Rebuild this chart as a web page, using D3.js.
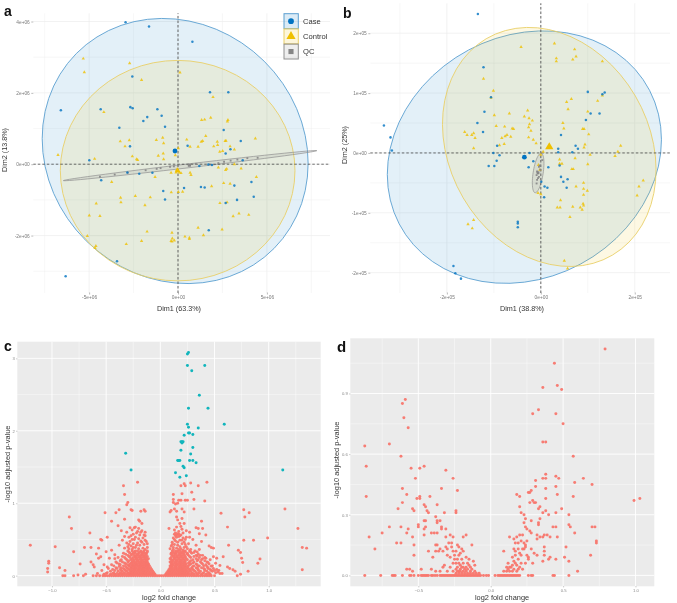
<!DOCTYPE html>
<html>
<head>
<meta charset="utf-8">
<script src="https://cdn.jsdelivr.net/npm/d3@7"></script>
<style>
html, body { margin: 0; padding: 0; background: #fff; }
text { font-family: "Liberation Sans", Arial, sans-serif; }
svg { filter: blur(0.3px); }
</style>
</head>
<body>
<div id="chart"></div>
<script>
// panel a, units of 1e6
var aCase = [[-2.95,3.98],[-1.63,3.86],[0.81,3.43],[1.8,2.02],[2.83,2.02],[-2.57,2.46],[-6.59,1.51],[-4.35,1.54],[-2.68,1.6],[-2.55,1.57],[-1.16,1.54],[-0.92,1.36],[-1.73,1.32],[-1.95,1.21],[-3.3,1.02],[-0.73,1.05],[2.57,0.96],[3.53,0.65],[-2.7,0.5],[0.54,0.52],[2.95,0.42],[2.68,0.3],[-4.99,0.11],[3.64,0.11],[1.71,-0.01],[1.91,-0.02],[1.2,-0.05],[-1.44,-0.24],[-2.18,-0.27],[-2.85,-0.23],[-4.32,-0.45],[-0.83,-0.75],[0.34,-0.67],[1.29,-0.64],[1.5,-0.65],[3.17,-0.6],[4.13,-0.5],[4.26,-0.91],[3.32,-1.0],[-0.73,-0.99],[2.68,-1.09],[1.73,-1.85],[-3.43,-2.72],[-6.32,-3.14]];
var aControl = [[-5.33,2.96],[-5.27,2.58],[-2.72,2.83],[-2.05,2.36],[0.11,2.57],[1.97,1.88],[-4.17,1.46],[1.33,1.24],[1.5,1.25],[1.84,1.3],[2.81,1.24],[2.78,1.2],[-3.25,0.64],[-2.74,0.67],[-2.98,0.5],[-1.22,0.68],[-0.86,0.74],[-0.81,0.59],[0.49,0.69],[0.68,0.49],[1.13,0.49],[1.31,0.63],[1.39,0.65],[1.56,0.79],[2.01,0.5],[2.21,0.63],[2.23,0.54],[2.65,0.65],[2.7,0.66],[2.93,0.5],[4.35,0.72],[2.35,0.35],[2.51,0.37],[3.17,0.41],[-6.75,0.26],[-4.69,0.15],[-2.57,0.22],[-2.33,0.14],[-2.27,0.12],[-1.11,0.24],[-0.83,0.3],[-0.81,0.14],[-0.15,0.25],[0.02,0.45],[-0.39,-0.24],[-0.07,-0.16],[0,-0.2],[0.08,-0.23],[0.17,-0.25],[-0.11,-0.23],[0.68,-0.24],[0.73,-0.3],[-1.29,-0.36],[2.27,-0.09],[2.74,-0.13],[2.68,-0.16],[3.17,0],[3.55,-0.12],[4.41,-0.36],[-3.73,-0.5],[2.57,-0.53],[2.93,-0.55],[1.89,-0.62],[-0.38,-0.79],[0.02,-0.78],[0.26,-0.77],[-3.23,-0.94],[-3.21,-1.07],[-2.4,-0.89],[-1.56,-0.93],[-1.86,-1.15],[-4.6,-1.1],[-4.99,-1.44],[-4.39,-1.45],[2.36,-1.09],[2.76,-1.07],[3.1,-1.46],[3.43,-1.38],[3.98,-1.42],[1.13,-1.78],[2.48,-1.83],[1.43,-1.99],[0.39,-2.03],[0.64,-2.06],[0.64,-2.1],[-1.74,-1.89],[-0.34,-1.92],[-0.32,-2.08],[-0.39,-2.15],[-0.21,-2.14],[-0.34,-2.17],[-2.05,-2.15],[-2.91,-2.24],[-5.1,-2.01],[-4.62,-2.29],[-4.67,-2.35]];
var aQC = [[-4.39,-0.35],[-3.56,-0.29],[-2.83,-0.24],[-1.82,-0.17],[-1.2,-0.13],[-0.98,-0.11],[-0.45,-0.07],[-0.23,-0.06],[0.6,-0.04],[0.68,-0.02],[1,0.01],[2.27,0.03],[2.59,0.07],[2.96,0.1],[3.34,0.13],[3.9,0.17],[4.48,0.18]];
var aMeans = [[-0.17,0.37],[-0.02,-0.18],[0.65,-0.03]];
// centre x, centre y, then two axis vectors
var aCaseEllipse = [-0.16,0.37,7.48,-0.346,0,3.7];
var aControlEllipse = [-0.02,-0.18,6.6,0,0,3.09];
var aQCEllipse = [0.68,-0.04,7.13,0.42,0,0.055];
var aXTicks = [-5,0,5], aXLabels = ["-5e+06","0e+00","5e+06"];
var aYTicks = [-2,0,2,4], aYLabels = ["-2e+06","0e+00","2e+06","4e+06"];
var aXMinor = [-7.5,-2.5,2.5,7.5], aYMinor = [-3,-1,1,3];

// panel b, units of 1e5
var bCase = [[-1.34,2.32],[-3.34,0.46],[-3.2,0.26],[-3.17,0.04],[-1.22,1.43],[-1.2,0.69],[-1.06,0.93],[-1.35,0.5],[-1.23,0.35],[-0.93,0.12],[-1.01,0],[-0.88,-0.04],[-0.94,-0.13],[-1.11,-0.22],[-0.99,-0.22],[-0.24,0],[-0.16,-0.14],[-0.26,-0.24],[0.16,-0.24],[0.37,0.07],[0.37,0.01],[0.67,0.01],[0.74,0.12],[0.79,0.07],[0.43,0.3],[0.4,-0.21],[0.43,-0.4],[0.48,-0.48],[0.57,-0.44],[0.55,-0.58],[0.08,-0.56],[0.14,-0.58],[0.07,-0.74],[0.01,-0.48],[0.96,0.55],[1.06,0.66],[1,1.02],[1.25,0.66],[1.31,0.98],[1.36,1.01],[-0.49,-1.15],[-0.49,-1.18],[-0.49,-1.24],[-1.86,-1.89],[-1.82,-2.01],[-1.7,-2.1]];
var bControl = [[-0.42,1.77],[0.29,1.83],[0.72,1.73],[0.75,1.61],[0.68,1.56],[0.33,1.58],[0.33,1.53],[1.31,1.53],[-1.22,1.24],[-1.01,1.04],[-1.06,0.92],[0.65,0.9],[0.55,0.85],[0.58,0.73],[1.21,0.87],[1.31,0.96],[1,0.69],[-0.99,0.63],[-0.67,0.66],[-0.28,0.71],[-0.35,0.61],[-0.25,0.58],[-0.18,0.54],[-0.24,0.48],[-0.26,0.43],[-0.21,0.37],[-0.95,0.45],[-0.77,0.44],[-0.61,0.41],[-0.58,0.4],[-1.62,0.35],[-1.57,0.3],[-1.47,0.3],[-1.43,0.33],[-1.4,0.25],[-0.83,0.25],[-0.76,0.28],[-0.72,0.3],[-0.64,0.27],[-0.78,0.15],[-0.88,0.13],[-1.43,0.08],[-0.26,0.26],[-0.16,0.22],[-0.1,0.16],[0.47,0.5],[0.49,0.41],[0.89,0.4],[0.92,0.4],[1.02,0.31],[0.94,0.14],[0.92,0.09],[1.7,0.12],[1.64,0.02],[1.58,-0.05],[1.05,-0.03],[1,-0.19],[0.73,-0.09],[0.4,-0.11],[0.4,-0.18],[0.45,-0.18],[0.66,-0.27],[0.69,-0.27],[0.05,0.02],[0,-0.03],[-0.05,-0.2],[-0.02,-0.28],[-0.06,-0.67],[0,-0.69],[0.75,-0.56],[0.91,-0.5],[0.91,-0.6],[0.99,-0.63],[0.91,-0.7],[2.18,-0.46],[2.09,-0.56],[2.05,-0.71],[0.42,-0.79],[0.35,-0.91],[0.41,-0.91],[0.68,-0.9],[0.84,-0.91],[0.9,-0.85],[0.91,-0.88],[0.88,-0.95],[0.62,-1.07],[-1.55,-1.19],[-1.43,-1.12],[-1.46,-1.26],[0.5,-1.8],[0.57,-1.93]];
var bQC = [[0.03,-0.12],[-0.02,-0.21],[-0.08,-0.31],[-0.06,-0.34],[-0.09,-0.37],[-0.04,-0.4],[-0.08,-0.45],[-0.09,-0.51],[-0.04,-0.23],[-0.01,-0.28],[-0.06,-0.42]];
var bCaseMean = [-0.35,-0.07], bControlMean = [0.18,0.1], bQCMean = [-0.06,-0.33];
var bCaseEllipse = [-0.35,-0.07,2.918,0.29,0,2.089];
var bControlEllipse = [0.18,0.1,2.26,-0.167,-0.248,1.99];
var bQCEllipse = [-0.057,-0.335,0.064,0.33,0.106,-0.01];
var bXTicks = [-2,0,2], bXLabels = ["-2e+05","0e+00","2e+05"];
var bYTicks = [-2,-1,0,1,2], bYLabels = ["-2e+05","-1e+05","0e+00","1e+05","2e+05"];
var bXMinor = [-3,-1,1], bYMinor = [-1.5,-0.5,0.5,1.5];

// panel c
var cSignificant = [[0.26,3.08],[0.25,3.06],[0.25,2.9],[0.41,2.9],[0.29,2.83],[0.36,2.49],[0.26,2.31],[0.44,2.31],[0.25,2.09],[0.59,2.09],[0.26,2.05],[0.35,2.04],[0.26,1.97],[0.27,1.97],[0.3,1.95],[0.22,1.94],[0.19,1.85],[0.2,1.85],[0.21,1.85],[0.2,1.83],[0.3,1.77],[0.19,1.73],[0.28,1.68],[-0.32,1.69],[0.16,1.59],[0.17,1.59],[0.18,1.59],[0.27,1.59],[0.3,1.59],[0.33,1.56],[0.21,1.51],[0.22,1.49],[-0.27,1.46],[1.13,1.46],[0.14,1.42],[0.24,1.38],[0.18,1.36]];
var cSparse = [[-1.2,0.42],[-0.97,0.4],[-1.03,0.2],[-1.03,0.17],[-1.04,0.1],[-1.04,0.05],[-0.93,0.11],[-0.88,0.07],[-0.9,0],[-0.88,0],[-0.84,0.81],[-0.82,0.65],[-0.8,0.33],[-0.8,0],[-0.76,0.01],[-0.74,0.16],[-0.7,0.39],[-0.71,0],[-0.69,0.02],[-0.65,0.59],[-0.64,0.39],[-0.64,0.19],[-0.62,0.15],[-0.61,0.12],[-0.59,0.3],[-0.57,0.24],[-0.57,0.38],[-0.55,0.5],[-0.54,0.49],[-0.49,0.53],[-0.51,0.87],[-0.55,0.26],[-0.52,0.15],[-0.49,0.12],[-0.5,0.33],[-0.45,0.75],[-0.41,0.87],[-0.38,0.91],[-0.39,0.69],[-0.33,0.78],[-0.36,0.62],[-0.34,1.24],[-0.33,1.12],[-0.31,0.98],[-0.3,1.01],[-0.27,0.91],[-0.26,0.9],[-0.21,1.29],[-0.2,0.77],[-0.19,0.75],[-0.18,0.89],[-0.15,0.91],[-0.14,0.89],[-0.17,0.72],[-0.45,0.35],[-0.42,0.29],[-0.47,0.24],[-0.38,0.42],[-0.35,0.49],[-0.33,0.54],[-0.28,0.66],[-0.26,0.63],[-0.23,0.67],[-0.2,0.65],[-0.17,0.62],[-0.14,0.6],[-0.14,0.55],[-0.31,0.6],[-0.29,0.53],[-0.25,0.57],[-0.22,0.59],[-0.19,0.56],[-0.16,0.52],[-0.13,0.47],[-0.31,0.45],[-0.28,0.47],[-0.24,0.5],[-0.21,0.45],[-0.18,0.48],[-0.15,0.43],[-0.27,0.41],[-0.23,0.39],[-0.19,0.42],[-0.16,0.38],[-0.12,0.39],[-0.33,0.38],[-0.3,0.4],[-0.26,0.36],[-0.24,0.66],[-0.21,0.61],[-0.27,0.55],[-0.18,0.6],[-0.15,0.56],[-0.26,0.5],[-0.23,0.53],[-0.2,0.51],[-0.17,0.46],[-0.14,0.49],[-0.29,0.43],[-0.25,0.44],[-0.22,0.42],[-0.12,0.44],[-0.29,0.37],[-0.25,0.39],[-0.2,0.37],[-0.14,0.36],
[0.12,1.12],[0.12,1.05],[0.12,1.01],[0.17,1.04],[0.16,1],[0.19,1.24],[0.22,1.27],[0.23,1.24],[0.28,1.28],[0.35,1.24],[0.43,1.29],[0.29,1.15],[0.31,1.05],[0.2,1.13],[0.19,1.04],[0.23,1.04],[0.25,1.04],[0.41,1.03],[0.14,0.99],[0.09,0.88],[0.1,0.9],[0.13,0.92],[0.15,0.89],[0.2,0.92],[0.22,0.88],[0.31,0.92],[0.15,0.81],[0.16,0.77],[0.18,0.72],[0.2,0.79],[0.22,0.72],[0.19,0.68],[0.38,0.75],[0.39,0.65],[0.33,0.66],[0.35,0.65],[0.42,0.56],[0.36,0.58],[0.56,0.86],[0.62,0.67],[0.63,0.42],[0.58,0.26],[0.62,0.12],[0.64,0.1],[0.67,0.08],[0.69,0.06],[0.71,0],[0.74,0.02],[0.81,0.06],[0.72,0.35],[0.74,0.32],[0.75,0.24],[0.76,0.18],[0.77,0.49],[0.77,0.91],[0.78,0.81],[0.82,0.87],[0.86,0.49],[0.99,0.52],[0.92,0.23],[0.9,0.17],[1.27,0.65],[1.15,0.92],[1.31,0.39],[1.35,0.38],[1.31,0.08],[0.45,0.41],[0.47,0.39],[0.49,0.38],[0.42,0.24],[0.49,0.26],[0.52,0.24],[0.51,0.17],[0.55,0.14],[0.47,0.13],[0.44,0.18],[0.39,0.28],[0.36,0.36],[0.33,0.42],[0.3,0.5],[0.38,0.47],[0.27,0.53],[0.24,0.53],[0.21,0.52],[0.12,0.52],[0.08,0.65],[0.13,0.63],[0.15,0.67],[0.24,0.62],[0.27,0.6],[0.13,0.57],[0.14,0.55],[0.15,0.56],[0.16,0.58],[0.17,0.57],[0.18,0.55],[0.19,0.56],[0.15,0.53],[0.17,0.54],[0.11,0.46],[0.14,0.48],[0.18,0.49],[0.22,0.46],[0.26,0.44],[0.1,0.41],[0.13,0.43],[0.16,0.42],[0.2,0.44],[0.24,0.4],[0.28,0.36],[0.09,0.37],[0.12,0.36],[0.15,0.38],[0.19,0.37],[0.22,0.39],[0.31,0.32],[0.34,0.27],[0.38,0.22],[0.44,0.1],[0.5,0.07],[0.53,0.05],[0.57,0.03],[0.16,0.46],[0.2,0.49],[0.13,0.5],[0.23,0.5],[0.17,0.61],[0.14,0.59],[0.2,0.64],[0.21,0.59],[0.11,0.43],[0.18,0.4],[0.23,0.43],[0.12,0.39],[0.17,0.36],[0.21,0.35],[0.25,0.37]];
var cRowLevels = [0,0.02,0.04,0.06,0.085,0.11,0.135,0.16,0.19,0.22,0.25,0.28,0.31,0.34];
var cRows = [
  [-0.62,-0.59,-0.56,-0.53,-0.51,-0.49,-0.47,-0.45,-0.43,-0.41,-0.39,-0.37,-0.35,-0.33,-0.31,-0.29,-0.27,-0.25,-0.23,-0.21,-0.19,-0.17,-0.15,-0.13,-0.11,-0.09,-0.07,-0.05,-0.03,-0.01,0.01,0.03,0.05,0.07,0.09,0.11,0.13,0.15,0.17,0.19,0.21,0.23,0.25,0.27,0.29,0.31,0.33,0.35,0.37,0.39,0.41,0.43,0.45,0.47,0.5],
  [-0.52,-0.46,-0.42,-0.38,-0.35,-0.32,-0.29,-0.27,-0.25,-0.23,-0.21,-0.19,-0.17,-0.15,-0.13,-0.11,-0.09,-0.07,-0.05,0.05,0.07,0.09,0.11,0.13,0.15,0.17,0.19,0.21,0.23,0.25,0.28,0.31,0.34,0.38,0.42,0.46],
  [-0.49,-0.43,-0.37,-0.33,-0.3,-0.28,-0.26,-0.24,-0.22,-0.2,-0.18,-0.16,-0.14,-0.12,-0.1,-0.08,-0.06,0.06,0.08,0.1,0.12,0.14,0.16,0.18,0.2,0.22,0.24,0.26,0.29,0.33,0.36,0.4,0.45,0.51],
  [-0.46,-0.39,-0.35,-0.31,-0.27,-0.25,-0.23,-0.21,-0.19,-0.17,-0.15,-0.13,-0.11,-0.09,-0.07,0.07,0.09,0.11,0.13,0.15,0.17,0.19,0.21,0.23,0.25,0.28,0.32,0.37,0.43,0.48],
  [-0.44,-0.37,-0.33,-0.29,-0.26,-0.24,-0.22,-0.2,-0.18,-0.16,-0.14,-0.12,-0.1,-0.08,0.08,0.1,0.12,0.14,0.16,0.18,0.2,0.22,0.24,0.27,0.3,0.35,0.41,0.46,0.52],
  [-0.41,-0.36,-0.31,-0.27,-0.25,-0.23,-0.21,-0.19,-0.17,-0.15,-0.13,-0.11,-0.09,0.09,0.11,0.13,0.15,0.17,0.19,0.21,0.23,0.25,0.29,0.33,0.38,0.44],
  [-0.43,-0.34,-0.29,-0.26,-0.24,-0.22,-0.2,-0.18,-0.16,-0.14,-0.12,-0.1,0.09,0.11,0.13,0.15,0.17,0.19,0.21,0.23,0.26,0.31,0.36,0.4,0.48],
  [-0.38,-0.32,-0.28,-0.25,-0.23,-0.21,-0.19,-0.17,-0.15,-0.13,-0.11,0.1,0.12,0.14,0.16,0.18,0.2,0.22,0.24,0.28,0.33,0.39,0.45],
  [-0.41,-0.35,-0.3,-0.26,-0.24,-0.22,-0.2,-0.18,-0.16,-0.14,-0.12,0.09,0.11,0.13,0.15,0.17,0.19,0.21,0.23,0.27,0.31,0.37,0.43],
  [-0.36,-0.31,-0.27,-0.24,-0.22,-0.2,-0.18,-0.16,-0.14,-0.12,0.1,0.12,0.14,0.16,0.18,0.2,0.22,0.25,0.3,0.35,0.46],
  [-0.39,-0.33,-0.28,-0.25,-0.23,-0.21,-0.19,-0.17,-0.15,-0.13,0.1,0.13,0.15,0.17,0.19,0.21,0.23,0.28,0.36,0.41],
  [-0.3,-0.27,-0.24,-0.22,-0.2,-0.18,-0.16,-0.14,0.11,0.13,0.16,0.18,0.2,0.22,0.26,0.33,0.37],
  [-0.34,-0.28,-0.25,-0.23,-0.2,-0.17,-0.15,-0.13,0.1,0.12,0.14,0.17,0.19,0.21,0.25,0.29],
  [-0.3,-0.26,-0.23,-0.21,-0.18,-0.15,-0.12,0.11,0.14,0.16,0.18,0.21,0.23,0.27,0.32]
];
// second pass over the band, between the rows above
var cFillLevels = [0.03,0.07,0.1,0.125,0.15,0.175,0.205,0.235,0.265,0.295,0.325];
var cFillRows = [
  [-0.58,-0.5,-0.44,-0.4,-0.36,-0.34,-0.3,-0.26,-0.22,-0.18,-0.14,-0.1,-0.06,0.06,0.1,0.14,0.18,0.22,0.26,0.3,0.35,0.39,0.44,0.55],
  [-0.54,-0.42,-0.36,-0.32,-0.28,-0.24,-0.2,-0.16,-0.12,-0.08,0.08,0.12,0.16,0.2,0.24,0.27,0.31,0.35,0.41,0.47,0.54],
  [-0.48,-0.4,-0.34,-0.3,-0.27,-0.23,-0.19,-0.15,-0.11,0.1,0.14,0.18,0.22,0.26,0.29,0.34,0.4,0.49],
  [-0.38,-0.32,-0.28,-0.24,-0.2,-0.16,-0.12,0.1,0.14,0.18,0.22,0.25,0.3,0.35,0.43],
  [-0.45,-0.37,-0.3,-0.26,-0.22,-0.18,-0.14,-0.11,0.11,0.15,0.19,0.23,0.27,0.34,0.42],
  [-0.4,-0.33,-0.27,-0.23,-0.19,-0.15,-0.12,0.1,0.14,0.18,0.22,0.26,0.3,0.38],
  [-0.37,-0.29,-0.25,-0.21,-0.17,-0.13,0.11,0.15,0.19,0.23,0.28,0.34,0.41],
  [-0.42,-0.32,-0.26,-0.22,-0.18,-0.14,-0.11,0.09,0.13,0.17,0.21,0.24,0.33,0.39],
  [-0.35,-0.29,-0.23,-0.19,-0.15,-0.12,0.12,0.15,0.19,0.23,0.27,0.31],
  [-0.32,-0.26,-0.21,-0.17,-0.13,0.1,0.14,0.18,0.22,0.25,0.35],
  [-0.29,-0.24,-0.19,-0.16,-0.12,0.12,0.15,0.2,0.23,0.28,0.34]
];
var cXTicks = [-1,-0.5,0,0.5,1], cYTicks = [0,1,2,3];
var cXMinor = [-0.75,-0.25,0.25,0.75,1.25], cYMinor = [0.5,1.5,2.5];

// panel d
var dPoints = [[0.79,1.12],[0.44,1.05],[0.46,0.94],[0.49,0.92],[0.36,0.93],[0.33,0.82],[0.29,0.8],[0.45,0.8],[0.5,0.75],[0.36,0.66],[0.38,0.66],[0.57,0.59],[0.38,0.5],[0.36,0.48],[0.38,0.48],[0.31,0.47],[0.45,0.49],[0.47,0.48],[0.64,0.48],[0.58,0.46],[0.7,0.45],[0.31,0.44],[0.45,0.44],[0.38,0.43],[0.46,0.4],[0.28,0.42],[0.27,0.41],[0.26,0.41],[0.57,0.39],[0.18,0.4],[0.2,0.39],[0.38,0.38],[0.99,0.37],[1.03,0.38],[0.29,0.37],[0.3,0.36],[0.27,0.36],[0.31,0.36],[0.2,0.34],[0.33,0.33],[0.34,0.34],[0.38,0.32],[0.49,0.33],[0.45,0.31],[0.21,0.31],[0.36,0.31],[0.54,0.3],[0.23,0.3],[0.4,0.3],[0.34,0.28],[0.24,0.28],[0.28,0.27],[0.23,0.26],[0.33,0.26],[0.24,0.24],[0.25,0.23],[0.54,0.25],[0.55,0.24],[0.43,0.24],[0.45,0.24],[0.33,0.25],[0.58,0.21],[0.27,0.22],[0.28,0.21],[0.7,0.24],[0.72,0.24],[0.46,0.19],[0.32,0.2],[0.32,0.18],[0.34,0.19],[0.36,0.19],[0.37,0.2],[0.39,0.2],[0.41,0.19],[0.73,0.17],[0.73,0.16],[0.69,0.1],[0.52,0.14],[0.51,0.09],[0.54,0.07],[0.6,0.02],[0.45,0.08],[0.4,0.08],[0.41,0.09],[0.37,0.1],[0.37,0.12],[0.37,0.14],[0.36,0.07],[0.32,0.1],[0.3,0.11],[0.28,0.13],[0.26,0.09],
[0.13,0.19],[0.16,0.18],[0.18,0.19],[0.2,0.2],[0.22,0.2],[0.21,0.17],[0.23,0.16],[0.24,0.15],[0.19,0.16],[0.17,0.16],[0.25,0.17],[0.24,0.14],[0.23,0.13],[0.22,0.13],[0.19,0.13],[0.16,0.13],[0.17,0.12],[0.09,0.12],[0.15,0.09],[0.17,0.1],[0.21,0.1],[0.2,0.11],[0.25,0.1],[0.26,0.08],[0.29,0.06],[0.24,0.06],[0.19,0.08],[0.16,0.07],[0.17,0.06],[0.12,0.06],[0.11,0.04],[0.13,0.04],[0.15,0.05],[0.18,0.05],[0.2,0.04],[0.21,0.06],[0.22,0.03],[0.19,0.03],[0.16,0.03],[0.13,0.02],[0.11,0.02],[0.09,0.02],[0.18,0.02],[0.15,0.02],[0.14,0.04],[0.12,0.03],
[-0.87,0.64],[-0.86,0.54],[-0.86,0.39],[-0.84,0.19],[-0.8,0.13],[-0.75,0.21],[-0.7,0.24],[-0.7,0.65],[-0.65,0.16],[-0.62,0.16],[-0.62,0.59],[-0.61,0.85],[-0.59,0.87],[-0.6,0.78],[-0.57,0.73],[-0.61,0.43],[-0.61,0.36],[-0.58,0.4],[-0.64,0.33],[-0.62,0.24],[-0.57,0.23],[-0.58,0.21],[-0.55,0.53],[-0.49,0.53],[-0.46,0.54],[-0.52,0.48],[-0.31,0.52],[-0.26,0.48],[-0.23,0.42],[-0.34,0.43],[-0.51,0.38],[-0.49,0.38],[-0.49,0.39],[-0.42,0.39],[-0.46,0.35],[-0.45,0.34],[-0.44,0.32],[-0.54,0.33],[-0.53,0.32],[-0.37,0.35],[-0.43,0.31],[-0.32,0.31],[-0.24,0.32],[-0.24,0.31],[-0.38,0.29],[-0.46,0.27],[-0.45,0.27],[-0.37,0.27],[-0.35,0.27],[-0.37,0.26],[-0.34,0.24],[-0.5,0.25],[-0.5,0.24],[-0.45,0.24],[-0.46,0.23],[-0.31,0.23],[-0.34,0.23],[-0.41,0.21],[-0.39,0.21],[-0.37,0.21],[-0.46,0.2],[-0.54,0.19],[-0.53,0.15],[-0.53,0.1],[-0.43,0.12],[-0.4,0.09],
[-0.28,0.2],[-0.26,0.19],[-0.19,0.19],[-0.17,0.2],[-0.31,0.19],[-0.38,0.15],[-0.37,0.15],[-0.35,0.13],[-0.31,0.14],[-0.29,0.16],[-0.27,0.16],[-0.23,0.15],[-0.22,0.14],[-0.2,0.13],[-0.19,0.12],[-0.21,0.11],[-0.13,0.15],[-0.3,0.13],[-0.33,0.12],[-0.36,0.12],[-0.38,0.12],[-0.3,0.1],[-0.26,0.12],[-0.25,0.1],[-0.23,0.08],[-0.25,0.08],[-0.2,0.08],[-0.17,0.09],[-0.15,0.08],[-0.12,0.07],[-0.11,0.05],[-0.14,0.04],[-0.16,0.06],[-0.19,0.06],[-0.21,0.05],[-0.23,0.04],[-0.32,0.05],[-0.33,0.04],[-0.26,0.06],[-0.28,0.04],[-0.18,0.03],[-0.21,0.03],[-0.41,0.03],[-0.38,0.02],[-0.48,0.03],[-0.58,0.03],[-0.56,0.03],[-0.54,0.02],[-0.35,0.02],[-0.3,0.02],[-0.26,0.02],[-0.14,0.02],[-0.11,0.02],[-0.22,0.02],[-0.17,0.02],[-0.19,0.02],[-0.13,0.03],[-0.1,0.01],[-0.08,0.01],[-0.2,0.04],[-0.16,0.03],[-0.24,0.03],[-0.15,0.05],[-0.24,0.01],[-0.22,0.01],[-0.2,0.01],[-0.18,0.01],[-0.16,0.01],[-0.14,0.01],[-0.12,0.01],[-0.23,0.02],[-0.21,0.02],[-0.19,0.04],[-0.17,0.04],[-0.22,0.06],[-0.24,0.06],[-0.28,0.09],[-0.22,0.1],[-0.27,0.14],[-0.24,0.12]];
var dBaseline = [-0.87,-0.76,-0.68,-0.67,-0.66,-0.61,-0.56,-0.55,-0.53,-0.5,-0.48,-0.47,-0.46,-0.45,-0.44,-0.43,-0.41,-0.4,-0.385,-0.37,-0.35,-0.34,-0.33,-0.32,-0.31,-0.3,-0.29,-0.28,-0.27,-0.26,-0.25,-0.24,-0.23,-0.22,-0.21,-0.2,-0.19,-0.18,-0.17,-0.16,-0.15,-0.14,-0.13,-0.12,-0.11,-0.1,-0.09,-0.08,-0.07,-0.05,-0.03,-0.015,0.03,0.05,0.06,0.07,0.08,0.09,0.1,0.11,0.12,0.13,0.14,0.15,0.16,0.17,0.18,0.19,0.2,0.26,0.28,0.29,0.43,0.44,0.54];
var dXTicks = [-0.5,0,0.5,1], dYTicks = [0,0.3,0.6,0.9];
var dXMinor = [-0.75,-0.25,0.25,0.75], dYMinor = [0.15,0.45,0.75,1.05];

var legendNames = ["Case","Control","QC"];
var groupColors = ["#0073C2","#EFC000","#868686"];
var groupStrokes = ["#5A9FD0","#E9CF68","#8f8f8f"];
var groupShapes = [d3.symbolCircle, d3.symbolTriangle, d3.symbolSquare];

var width = 677, height = 603;
var svg = d3.select("#chart").append("svg")
    .attr("width", width)
    .attr("height", height)
    .style("display", "block");

// outline of an ellipse given by centre and two axis vectors, in data units
function ellipseOutline(e) {
    var angles = d3.range(0, 360, 6);
    return angles.map(function (a) {
        var t = a * Math.PI / 180;
        return [e[0] + Math.cos(t) * e[2] + Math.sin(t) * e[4],
                e[1] + Math.cos(t) * e[3] + Math.sin(t) * e[5]];
    });
}

function drawGrid(g, x, y, xMajor, yMajor, xMinor, yMinor, color, majorW, minorW) {
    var xr = x.range(), yr = y.range();
    function lines(vals, sw) {
        g.selectAll(null).data(vals).enter().append("line")
            .attr("x1", function (d) { return x(d); }).attr("x2", function (d) { return x(d); })
            .attr("y1", yr[0]).attr("y2", yr[1])
            .attr("stroke", color).attr("stroke-width", sw);
    }
    function hlines(vals, sw) {
        g.selectAll(null).data(vals).enter().append("line")
            .attr("y1", function (d) { return y(d); }).attr("y2", function (d) { return y(d); })
            .attr("x1", xr[0]).attr("x2", xr[1])
            .attr("stroke", color).attr("stroke-width", sw);
    }
    lines(xMinor, minorW); hlines(yMinor, minorW);
    lines(xMajor, majorW); hlines(yMajor, majorW);
}

function drawAxes(g, x, y, xTicks, xLabels, yTicks, yLabels, xBase, yBase, tickLen, labelSize, labelColor) {
    var ax = d3.axisBottom(x).tickValues(xTicks).tickSize(tickLen).tickPadding(1.5)
        .tickFormat(function (d, i) { return xLabels ? xLabels[i] : d3.format(".1f")(d); });
    var ay = d3.axisLeft(y).tickValues(yTicks).tickSize(tickLen).tickPadding(1.5)
        .tickFormat(function (d, i) { return yLabels[i]; });
    var gx = g.append("g").attr("transform", "translate(0," + xBase + ")").call(ax);
    var gy = g.append("g").attr("transform", "translate(" + yBase + ",0)").call(ay);
    [gx, gy].forEach(function (a) {
        a.select(".domain").remove();
        a.selectAll("line").attr("stroke", "#777").attr("stroke-width", 0.5);
        a.selectAll("text").attr("fill", labelColor).style("font-size", labelSize + "px")
            .style("font-family", '"Liberation Sans", Arial, sans-serif');
    });
}

function drawTitle(g, txt, px, py, size, rotate, weight, color) {
    var t = g.append("text").text(txt)
        .attr("text-anchor", weight ? "start" : "middle")
        .attr("font-size", size)
        .attr("fill", color || "#333");
    if (weight) t.attr("font-weight", weight);
    if (rotate) t.attr("transform", "translate(" + px + "," + py + ") rotate(-90)");
    else t.attr("x", px).attr("y", py);
}

function drawMarkers(g, pts, x, y, shape, size, color, opacity) {
    var sym = d3.symbol().type(shape).size(size);
    g.selectAll(null).data(pts).enter().append("path")
        .attr("d", sym)
        .attr("transform", function (d) { return "translate(" + x(d[0]) + "," + y(d[1]) + ")"; })
        .attr("fill", color)
        .attr("fill-opacity", opacity);
}

function pcaPanel(o) {
    var g = svg.append("g");
    drawGrid(g, o.x, o.y, o.xTicks, o.yTicks, o.xMinor, o.yMinor, "#ececec", 0.7, 0.4);

    var smooth = d3.line().x(function (d) { return o.x(d[0]); }).y(function (d) { return o.y(d[1]); })
        .curve(d3.curveLinearClosed);
    [o.caseEllipse, o.controlEllipse, o.qcEllipse].forEach(function (e, i) {
        g.append("path").attr("d", smooth(ellipseOutline(e)))
            .attr("fill", groupColors[i]).attr("fill-opacity", i == 2 ? 0.15 : 0.11)
            .attr("stroke", groupStrokes[i]).attr("stroke-width", i == 2 ? 0.7 : 0.9);
    });

    var xr = o.x.range(), yr = o.y.range();
    g.append("line").attr("x1", xr[0]).attr("x2", xr[1]).attr("y1", o.y(0)).attr("y2", o.y(0))
        .attr("stroke", "#333").attr("stroke-width", 0.7).attr("stroke-dasharray", "2.5,2");
    g.append("line").attr("x1", o.x(0)).attr("x2", o.x(0)).attr("y1", yr[0]).attr("y2", yr[1])
        .attr("stroke", "#555").attr("stroke-width", 0.9).attr("stroke-dasharray", "2.5,2");

    drawMarkers(g, o.control, o.x, o.y, groupShapes[1], 5, groupColors[1], 0.8);
    drawMarkers(g, o.qc, o.x, o.y, groupShapes[2], 3.5, groupColors[2], 0.9);
    drawMarkers(g, o.cases, o.x, o.y, groupShapes[0], 5, groupColors[0], 0.8);
    drawMarkers(g, [o.means[0]], o.x, o.y, groupShapes[0], 18, groupColors[0], 1);
    drawMarkers(g, [o.means[1]], o.x, o.y, groupShapes[1], o.meanTri, groupColors[1], 1);
    drawMarkers(g, [o.means[2]], o.x, o.y, groupShapes[2], 8, groupColors[2], 1);

    drawAxes(g, o.x, o.y, o.xTicks, o.xLabels, o.yTicks, o.yLabels, yr[0] - 0.5, xr[0], 2, 4.8, "#7a7a7a");
    drawTitle(g, o.xTitle, o.xTitleX, 311, 7.2);
    drawTitle(g, o.yTitle, o.yTitleX, o.yTitleY, 7.2, true);
}

// a
pcaPanel({
    x: d3.scaleLinear().domain([-8.14, 8.55]).range([33.3, 330]),
    y: d3.scaleLinear().domain([-3.61, 4.23]).range([293, 13.3]),
    cases: aCase, control: aControl, qc: aQC, means: aMeans, meanTri: 14,
    caseEllipse: aCaseEllipse, controlEllipse: aControlEllipse, qcEllipse: aQCEllipse,
    xTicks: aXTicks, xLabels: aXLabels, yTicks: aYTicks, yLabels: aYLabels,
    xMinor: aXMinor, yMinor: aYMinor,
    xTitle: "Dim1 (63.3%)", xTitleX: 179, yTitle: "Dim2 (13.8%)", yTitleX: 7, yTitleY: 150
});

// b
pcaPanel({
    x: d3.scaleLinear().domain([-3.63, 2.75]).range([370.3, 670]),
    y: d3.scaleLinear().domain([-2.34, 2.5]).range([293, 3.3]),
    cases: bCase, control: bControl, qc: bQC, means: [bCaseMean, bControlMean, bQCMean], meanTri: 30,
    caseEllipse: bCaseEllipse, controlEllipse: bControlEllipse, qcEllipse: bQCEllipse,
    xTicks: bXTicks, xLabels: bXLabels, yTicks: bYTicks, yLabels: bYLabels,
    xMinor: bXMinor, yMinor: bYMinor,
    xTitle: "Dim1 (38.8%)", xTitleX: 522, yTitle: "Dim2 (25%)", yTitleX: 347, yTitleY: 145
});

// legend of panel a
var legend = svg.append("g");
var legendY = d3.scaleBand().domain(legendNames).range([13.7, 59]).paddingInner(0.02);
legendNames.forEach(function (name, i) {
    var ky = legendY(name), k = legendY.bandwidth();
    legend.append("rect").attr("x", 284).attr("y", ky).attr("width", 14.3).attr("height", k)
        .attr("fill", groupColors[i]).attr("fill-opacity", 0.14)
        .attr("stroke", groupStrokes[i]).attr("stroke-width", 1);
    legend.append("path").attr("d", d3.symbol().type(groupShapes[i]).size(i == 1 ? 36 : 26)())
        .attr("transform", "translate(291," + (ky + k / 2) + ")")
        .attr("fill", groupColors[i]);
    legend.append("text").text(name).attr("x", 303).attr("y", ky + k / 2 + 2.8)
        .attr("font-size", 7.6).attr("fill", "#333");
});

function volcanoPanel(o) {
    var g = svg.append("g");
    var xr = o.x.range(), yr = o.y.range();
    g.append("rect").attr("x", xr[0]).attr("y", yr[1]).attr("width", xr[1] - xr[0]).attr("height", yr[0] - yr[1])
        .attr("fill", "#EBEBEB");
    drawGrid(g, o.x, o.y, o.xTicks, o.yTicks, o.xMinor, o.yMinor, "#fff", 0.9, 0.4);
    drawMarkers(g, o.red, o.x, o.y, d3.symbolCircle, 7, "#F8766D", 0.95);
    if (o.teal) drawMarkers(g, o.teal, o.x, o.y, d3.symbolCircle, 7, "#11B5BC", 1);
    drawAxes(g, o.x, o.y, o.xTicks, null, o.yTicks, o.yLabels, yr[0], xr[0], 1, 4.2, "#8a8a8a");
    drawTitle(g, "log2 fold change", o.xTitleX, 600, 7.4);
    drawTitle(g, "-log10 adjusted p-value", o.yTitleX, o.yTitleY, 7.4, true);
}

// c: rows of the dense band plus the sparser points above it
var cRed = [];
cRows.forEach(function (row, i) {
    row.forEach(function (v) { cRed.push([v, cRowLevels[i]]); });
});
cFillRows.forEach(function (row, i) {
    row.forEach(function (v) { cRed.push([v, cFillLevels[i]]); });
});
cRed = cRed.concat(cSparse);
volcanoPanel({
    x: d3.scaleLinear().domain([-1.32, 1.48]).range([17.3, 320.7]),
    y: d3.scaleLinear().domain([-0.147, 3.23]).range([586.3, 341.7]),
    red: cRed, teal: cSignificant,
    xTicks: cXTicks, yTicks: cYTicks, xMinor: cXMinor, yMinor: cYMinor,
    yLabels: cYTicks.map(String), xTitleX: 169, yTitleX: 10, yTitleY: 464
});

// d
var dRed = dPoints.concat(dBaseline.map(function (v) { return [v, 0]; }));
volcanoPanel({
    x: d3.scaleLinear().domain([-0.97, 1.13]).range([350.3, 654.3]),
    y: d3.scaleLinear().domain([-0.054, 1.173]).range([586.3, 338.3]),
    red: dRed,
    xTicks: dXTicks, yTicks: dYTicks, xMinor: dXMinor, yMinor: dYMinor,
    yLabels: dYTicks.map(function (d) { return d.toFixed(1); }), xTitleX: 502, yTitleX: 339, yTitleY: 460
});

// panel letters
drawTitle(svg, "a", 4, 16, 14, false, "bold", "#111");
drawTitle(svg, "b", 343, 18, 14, false, "bold", "#111");
drawTitle(svg, "c", 4, 351, 14, false, "bold", "#111");
drawTitle(svg, "d", 337, 352, 15, false, "bold", "#111");
</script>
</body>
</html>
